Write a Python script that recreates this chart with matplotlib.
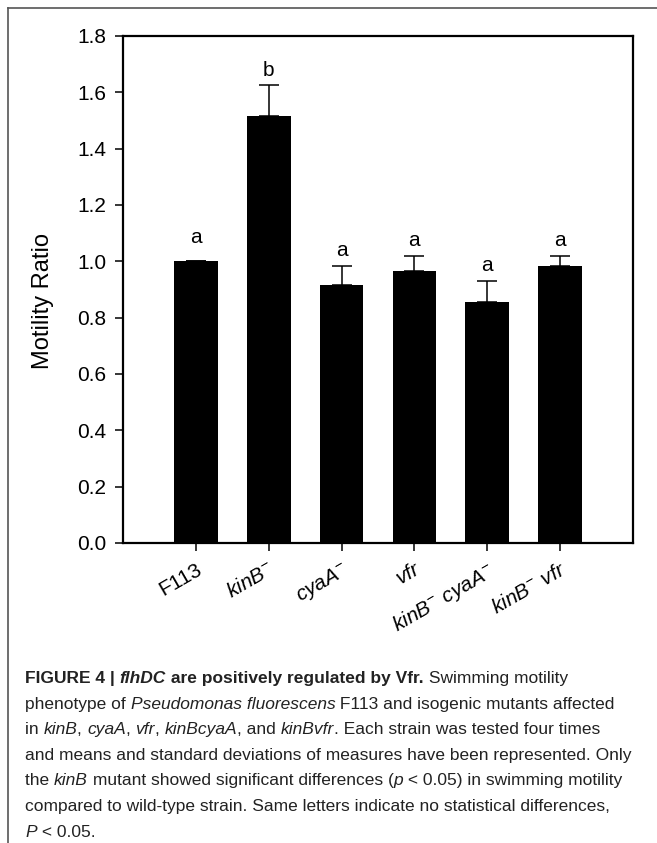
import matplotlib
matplotlib.use("Agg")
import matplotlib.pyplot as plt
from matplotlib.lines import Line2D

plt.rcParams['font.family'] = ['Liberation Sans', 'DejaVu Sans']
plt.rcParams['mathtext.fontset'] = 'custom'
plt.rcParams['mathtext.rm'] = 'Liberation Sans'
plt.rcParams['mathtext.it'] = 'Liberation Sans:italic'

strains = ["F113", r"$\mathit{kinB}^{-}$", r"$\mathit{cyaA}^{-}$", r"$\mathit{vfr}$",
           r"$\mathit{kinB}^{-}\ \mathit{cyaA}^{-}$", r"$\mathit{kinB}^{-}\ \mathit{vfr}$"]
ratio = [1.0, 1.515, 0.915, 0.965, 0.855, 0.985]
sd = [0.0, 0.11, 0.07, 0.055, 0.075, 0.035]
letters = ["a", "b", "a", "a", "a", "a"]

fig = plt.figure(figsize=(6.57, 8.43), dpi=100)
ax = fig.add_axes([0.1872, 0.3559, 0.7763, 0.6014])

pos = list(range(1, len(ratio) + 1))
ax.bar(pos, ratio, width=0.6, color="black")
ax.errorbar(pos, ratio, yerr=[[0] * len(sd), sd], fmt="none", ecolor="black",
            elinewidth=1.1, capsize=7, capthick=1.1)

for p, r, s, l in zip(pos, ratio, sd, letters):
    # the control bar has no visible cap, its letter sits a little higher
    off = 10 if s == 0 else 4
    ax.annotate(l, xy=(p, r + s), xytext=(0, off), textcoords="offset points",
                ha="center", va="bottom", fontsize=15)

ax.set_xlim(0, 7)
ax.set_ylim(0, 1.8)
ax.set_yticks([0.0, 0.2, 0.4, 0.6, 0.8, 1.0, 1.2, 1.4, 1.6, 1.8])
ax.set_yticklabels([f"{v:.1f}" for v in ax.get_yticks()], fontsize=15)
ax.set_xticks(pos)
ax.set_xticklabels(strains, fontsize=15, rotation=30, ha="right",
                   rotation_mode="anchor")
ax.tick_params(direction="out", length=6, width=1.1, pad=6)
for s in ax.spines.values():
    s.set_linewidth(1.6)
ax.set_ylabel("Motility Ratio", fontsize=17, va="center")
ax.yaxis.set_label_coords(-0.157, 0.477)

# outer frame of the figure panel
fig.add_artist(Line2D([8 / 657, 1], [1 - 8 / 843, 1 - 8 / 843], color="#555555", lw=1.2))
fig.add_artist(Line2D([8 / 657, 8 / 657], [0, 1 - 8 / 843], color="#555555", lw=1.2))

# caption, drawn run by run
caption = [
    [("FIGURE 4 | ", "bold"), ("flhDC", "bolditalic"), (" are positively regulated by Vfr.", "bold"),
     (" Swimming motility", "normal")],
    [("phenotype of ", "normal"), ("Pseudomonas fluorescens", "italic"),
     (" F113 and isogenic mutants affected", "normal")],
    [("in ", "normal"), ("kinB", "italic"), (", ", "normal"), ("cyaA", "italic"), (", ", "normal"),
     ("vfr", "italic"), (", ", "normal"), ("kinBcyaA", "italic"), (", and ", "normal"),
     ("kinBvfr", "italic"), (". Each strain was tested four times", "normal")],
    [("and means and standard deviations of measures have been represented. Only", "normal")],
    [("the ", "normal"), ("kinB", "italic"), (" mutant showed significant differences (", "normal"),
     ("p", "italic"), (" < 0.05) in swimming motility", "normal")],
    [("compared to wild-type strain. Same letters indicate no statistical differences,", "normal")],
    [("P", "italic"), (" < 0.05.", "normal")],
]

renderer = fig.canvas.get_renderer()
cap_size = 12.5
W = fig.get_figwidth() * fig.dpi


def style_kw(st):
    return {"fontweight": "bold" if "bold" in st else "normal",
            "fontstyle": "italic" if "italic" in st else "normal"}


def run_width(text, st):
    kw = style_kw(st)
    a = fig.text(0, 0, text + "x", fontsize=cap_size, **kw)
    b = fig.text(0, 0, "x", fontsize=cap_size, **kw)
    w = a.get_window_extent(renderer).width - b.get_window_extent(renderer).width
    a.remove()
    b.remove()
    return w


y0 = 1 - 683 / 843
for i, line in enumerate(caption):
    x = 25 / W
    y = y0 - i * 25.6 / 843
    for text, st in line:
        fig.text(x, y, text, fontsize=cap_size, color="#222222", va="baseline", **style_kw(st))
        x += run_width(text, st) / W

fig.savefig("out.png", dpi=100)
